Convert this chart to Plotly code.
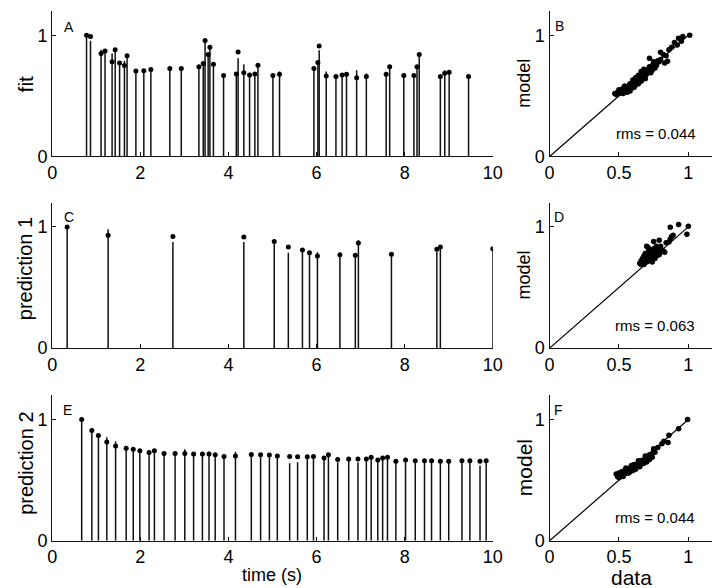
import plotly.graph_objects as go

# ---------------- data ----------------
A_t = [0.78,0.87,1.11,1.20,1.36,1.43,1.53,1.64,1.70,1.90,2.08,2.24,2.67,2.93,3.33,3.43,3.47,3.54,3.58,3.66,
       3.89,4.18,4.22,4.35,4.48,4.60,4.67,5.01,5.16,5.94,6.03,6.06,6.22,6.44,6.58,6.68,6.91,7.13,7.58,7.66,
       7.98,8.21,8.28,8.33,8.81,8.91,9.01,9.45]
A_dot = [1.00,0.99,0.85,0.87,0.78,0.88,0.77,0.75,0.83,0.705,0.707,0.718,0.726,0.726,0.74,0.767,0.957,0.84,0.90,0.76,
         0.667,0.68,0.862,0.69,0.672,0.68,0.753,0.667,0.678,0.726,0.775,0.91,0.664,0.659,0.672,0.678,0.65,0.66,0.678,0.74,
         0.667,0.667,0.74,0.84,0.659,0.686,0.694,0.66]
A_line = [1.00,0.955,0.88,0.88,0.85,0.88,0.77,0.79,0.83,0.705,0.707,0.73,0.726,0.726,0.74,0.767,0.95,0.84,0.91,0.76,
          0.667,0.68,0.81,0.76,0.672,0.695,0.753,0.667,0.70,0.726,0.775,0.875,0.70,0.659,0.672,0.678,0.71,0.685,0.678,0.74,
          0.685,0.667,0.74,0.84,0.659,0.71,0.694,0.675]

C_t = [0.34,1.27,2.74,4.35,5.04,5.36,5.68,5.84,6.02,6.53,6.88,6.95,7.70,8.73,8.81,10.0]
C_dot = [1.0,0.93,0.92,0.916,0.88,0.835,0.81,0.786,0.76,0.77,0.767,0.867,0.775,0.816,0.835,0.82]
C_line = [1.0,0.98,0.875,0.875,0.88,0.786,0.81,0.79,0.79,0.77,0.767,0.89,0.775,0.794,0.835,0.82]

E_t = [0.67,0.90,1.05,1.24,1.44,1.68,1.84,1.99,2.20,2.32,2.54,2.79,3.01,3.21,3.41,3.56,3.70,3.90,4.16,4.52,
       4.73,4.93,5.11,5.39,5.57,5.79,5.93,6.17,6.27,6.48,6.73,6.94,7.13,7.24,7.39,7.50,7.61,7.80,8.02,8.24,
       8.45,8.61,8.81,9.00,9.30,9.48,9.71,9.85]
E_dot = [1.0,0.91,0.868,0.815,0.782,0.763,0.755,0.742,0.728,0.742,0.72,0.72,0.72,0.715,0.715,0.715,0.71,0.696,0.70,0.712,
         0.71,0.707,0.70,0.696,0.694,0.694,0.696,0.683,0.71,0.67,0.675,0.675,0.675,0.688,0.667,0.683,0.688,0.656,0.667,0.661,
         0.661,0.661,0.656,0.656,0.661,0.661,0.656,0.661]
E_line = [1.0,0.91,0.868,0.855,0.82,0.763,0.755,0.742,0.728,0.742,0.72,0.72,0.755,0.715,0.715,0.735,0.71,0.696,0.735,0.712,
          0.71,0.707,0.70,0.64,0.648,0.694,0.696,0.683,0.71,0.648,0.675,0.648,0.675,0.688,0.667,0.683,0.688,0.648,0.684,0.661,
          0.661,0.661,0.656,0.656,0.661,0.661,0.62,0.661]

B_data = [0.47,0.49,0.50,0.51,0.52,0.52,0.53,0.53,0.54,0.55,0.55,0.56,0.56,0.57,0.57,0.58,0.58,0.59,0.59,0.60,
          0.60,0.61,0.61,0.62,0.62,0.63,0.63,0.64,0.64,0.65,0.65,0.66,0.66,0.67,0.67,0.68,0.68,0.69,0.70,0.70,
          0.71,0.71,0.72,0.72,0.73,0.74,0.74,0.75,0.76,0.77,0.78,0.79,0.80,0.72,0.80,0.82,0.85,0.83,0.86,0.88,
          0.84,0.90,0.93,0.96,1.01,0.92,0.95,0.58,0.62,0.66,0.69,0.75,0.54,0.50,0.48,0.60,0.64,0.68,0.73,0.76]
B_model = [0.52,0.53,0.52,0.54,0.53,0.55,0.52,0.56,0.54,0.55,0.57,0.53,0.56,0.58,0.55,0.57,0.60,0.56,0.59,0.58,
           0.61,0.60,0.57,0.62,0.59,0.61,0.64,0.62,0.60,0.63,0.66,0.64,0.62,0.66,0.68,0.65,0.69,0.67,0.70,0.68,
           0.72,0.69,0.71,0.74,0.72,0.75,0.71,0.74,0.77,0.75,0.79,0.78,0.80,0.81,0.86,0.84,0.785,0.77,0.88,0.90,
           0.83,0.94,0.975,0.99,1.00,0.92,0.95,0.54,0.65,0.70,0.64,0.78,0.58,0.55,0.51,0.63,0.67,0.72,0.69,0.73]

D_data = [0.65,0.66,0.67,0.67,0.68,0.68,0.69,0.69,0.70,0.70,0.70,0.71,0.71,0.71,0.72,0.72,0.72,0.73,0.73,0.73,
          0.74,0.74,0.74,0.75,0.75,0.75,0.76,0.76,0.76,0.77,0.77,0.78,0.78,0.79,0.79,0.80,0.80,0.81,0.82,0.83,
          0.71,0.75,0.79,0.70,0.77,0.84,0.86,0.87,0.88,0.89,0.87,0.93,1.00,0.99,0.74,0.69,0.72,0.68,0.66]
D_model = [0.70,0.72,0.71,0.74,0.73,0.76,0.72,0.75,0.74,0.77,0.71,0.73,0.76,0.79,0.74,0.77,0.72,0.75,0.78,0.81,
           0.73,0.76,0.79,0.75,0.78,0.82,0.74,0.77,0.80,0.76,0.79,0.78,0.82,0.77,0.80,0.79,0.84,0.81,0.80,0.79,
           0.83,0.88,0.89,0.84,0.84,0.87,0.875,0.90,0.92,0.93,0.997,1.02,1.006,0.94,0.71,0.78,0.80,0.69,0.69]

F_data = [0.48,0.49,0.50,0.51,0.52,0.52,0.53,0.54,0.54,0.55,0.56,0.56,0.57,0.58,0.58,0.59,0.60,0.60,0.61,0.62,
          0.62,0.63,0.63,0.64,0.65,0.65,0.66,0.66,0.67,0.68,0.68,0.69,0.70,0.70,0.71,0.72,0.72,0.73,0.74,0.74,
          0.75,0.76,0.55,0.59,0.64,0.69,0.53,0.57,0.61,0.75,0.81,0.824,0.854,0.86,0.93,0.995,0.78,0.50]
F_model = [0.55,0.53,0.56,0.54,0.55,0.57,0.56,0.55,0.58,0.57,0.56,0.59,0.58,0.57,0.60,0.59,0.58,0.61,0.60,0.59,
           0.62,0.61,0.63,0.62,0.64,0.61,0.63,0.66,0.65,0.67,0.64,0.66,0.68,0.65,0.69,0.67,0.71,0.70,0.72,0.69,
           0.74,0.73,0.60,0.62,0.66,0.70,0.53,0.56,0.63,0.76,0.80,0.82,0.81,0.87,0.925,1.00,0.77,0.52]

left_xticks = [0, 2, 4, 6, 8, 10]
left_yticks = [0, 1]
right_xticks = [0, 0.5, 1]
right_xlabels = ["0", "0.5", "1"]
right_yticks = [0, 1]
diag = [0, 1]

left_titles = ["fit", "prediction 1", "prediction 2"]
letters = ["A", "B", "C", "D", "E", "F"]
rms_texts = ["rms = 0.044", "rms = 0.063", "rms = 0.044"]

# ---------------- layout helpers ----------------
W, H = 720, 588
FONT = "Liberation Sans, Arial, Helvetica, sans-serif"


def px(x):
    return x / W


def py(y):
    return 1 - y / H


rows = [(3, 151), (198, 346), (394, 542)]  # pixel top/bottom of each row
left_x = (40, 490)
right_x = (548, 718)

fig = go.Figure()


def stems(t, top):
    xs, ys = [], []
    for a, b in zip(t, top):
        xs += [a, a, None]
        ys += [0, b, None]
    return xs, ys


stem_sets = [(A_t, A_dot, A_line), (C_t, C_dot, C_line), (E_t, E_dot, E_line)]
scatter_sets = [(B_data, B_model), (D_data, D_model), (F_data, F_model)]

for r in range(3):
    li = 2 * r + 1
    ri = 2 * r + 2
    t, dot, line = stem_sets[r]
    sx, sy = stems(t, line)
    xa = "x" if li == 1 else f"x{li}"
    ya = "y" if li == 1 else f"y{li}"
    fig.add_trace(go.Scatter(x=sx, y=sy, mode="lines", line=dict(color="#111", width=1.5),
                             xaxis=xa, yaxis=ya, showlegend=False, hoverinfo="skip"))
    fig.add_trace(go.Scatter(x=t, y=dot, mode="markers", marker=dict(color="#000", size=5),
                             xaxis=xa, yaxis=ya, showlegend=False))
    d, m = scatter_sets[r]
    xb = f"x{ri}"
    yb = f"y{ri}"
    fig.add_trace(go.Scatter(x=diag, y=diag, mode="lines", line=dict(color="#000", width=1.2),
                             xaxis=xb, yaxis=yb, showlegend=False, hoverinfo="skip"))
    fig.add_trace(go.Scatter(x=d, y=m, mode="markers", marker=dict(color="#000", size=5.5),
                             xaxis=xb, yaxis=yb, showlegend=False))

common = dict(showline=True, linecolor="#111", linewidth=1.2, ticks="inside", ticklen=4,
              tickcolor="#111", tickwidth=1, showgrid=False, zeroline=False,
              tickfont=dict(family=FONT, size=18, color="#000"), fixedrange=True)

layout = dict(width=W, height=H, autosize=False, margin=dict(l=0, r=0, t=0, b=0),
              plot_bgcolor="white", paper_bgcolor="white", showlegend=False,
              font=dict(family=FONT, color="#000"))

for r in range(3):
    top, bot = rows[r]
    ydom = [py(bot), py(top)]
    li = 2 * r + 1
    ri = 2 * r + 2
    kx = "xaxis" if li == 1 else f"xaxis{li}"
    ky = "yaxis" if li == 1 else f"yaxis{li}"
    layout[kx] = dict(common, domain=[px(left_x[0]), px(left_x[1])], range=[0, 10],
                      tickvals=left_xticks, anchor="y" if li == 1 else f"y{li}")
    layout[ky] = dict(common, domain=ydom, range=[0, 1.2], tickvals=left_yticks,
                      anchor="x" if li == 1 else f"x{li}")
    layout[f"xaxis{ri}"] = dict(common, domain=[px(right_x[0]), px(right_x[1])], range=[0, 1.2],
                                tickvals=right_xticks, ticktext=right_xlabels, anchor=f"y{ri}")
    layout[f"yaxis{ri}"] = dict(common, domain=ydom, range=[0, 1.2], tickvals=right_yticks,
                                anchor=f"x{ri}")

fig.update_layout(**layout)

ann = []
# left y titles
left_title_pos = [(13, 77, 21), (13, 265, 20), (13, 463, 20)]
for (x, y, s), txt in zip(left_title_pos, left_titles):
    ann.append(dict(x=px(x), y=py(y), text=txt, textangle=-90, font=dict(size=s, family=FONT)))
# right y titles ("model")
model_pos = [(522, 77, 18), (522, 272, 18), (522, 468, 21)]
for x, y, s in model_pos:
    ann.append(dict(x=px(x), y=py(y), text="model", textangle=-90, font=dict(size=s, family=FONT)))
# panel letters
letter_pos = [(57, 19), (558, 18), (57, 213), (558, 213), (56, 409), (557, 409)]
for (x, y), L in zip(letter_pos, letters):
    ann.append(dict(x=px(x), y=py(y), text=L, font=dict(size=14, family=FONT)))
# rms
rms_pos = [(657, 128), (656, 323), (656, 518)]
for (x, y), txt in zip(rms_pos, rms_texts):
    ann.append(dict(x=px(x), y=py(y), text=txt, font=dict(size=15, family=FONT)))
# x titles
ann.append(dict(x=px(265), y=py(577), text="time (s)", font=dict(size=18, family=FONT)))
ann.append(dict(x=px(632), y=py(579), text="data", font=dict(size=21, family=FONT)))

for a in ann:
    a.update(xref="paper", yref="paper", showarrow=False, xanchor="center", yanchor="middle")

fig.update_layout(annotations=ann)
fig.write_html("out.html")
